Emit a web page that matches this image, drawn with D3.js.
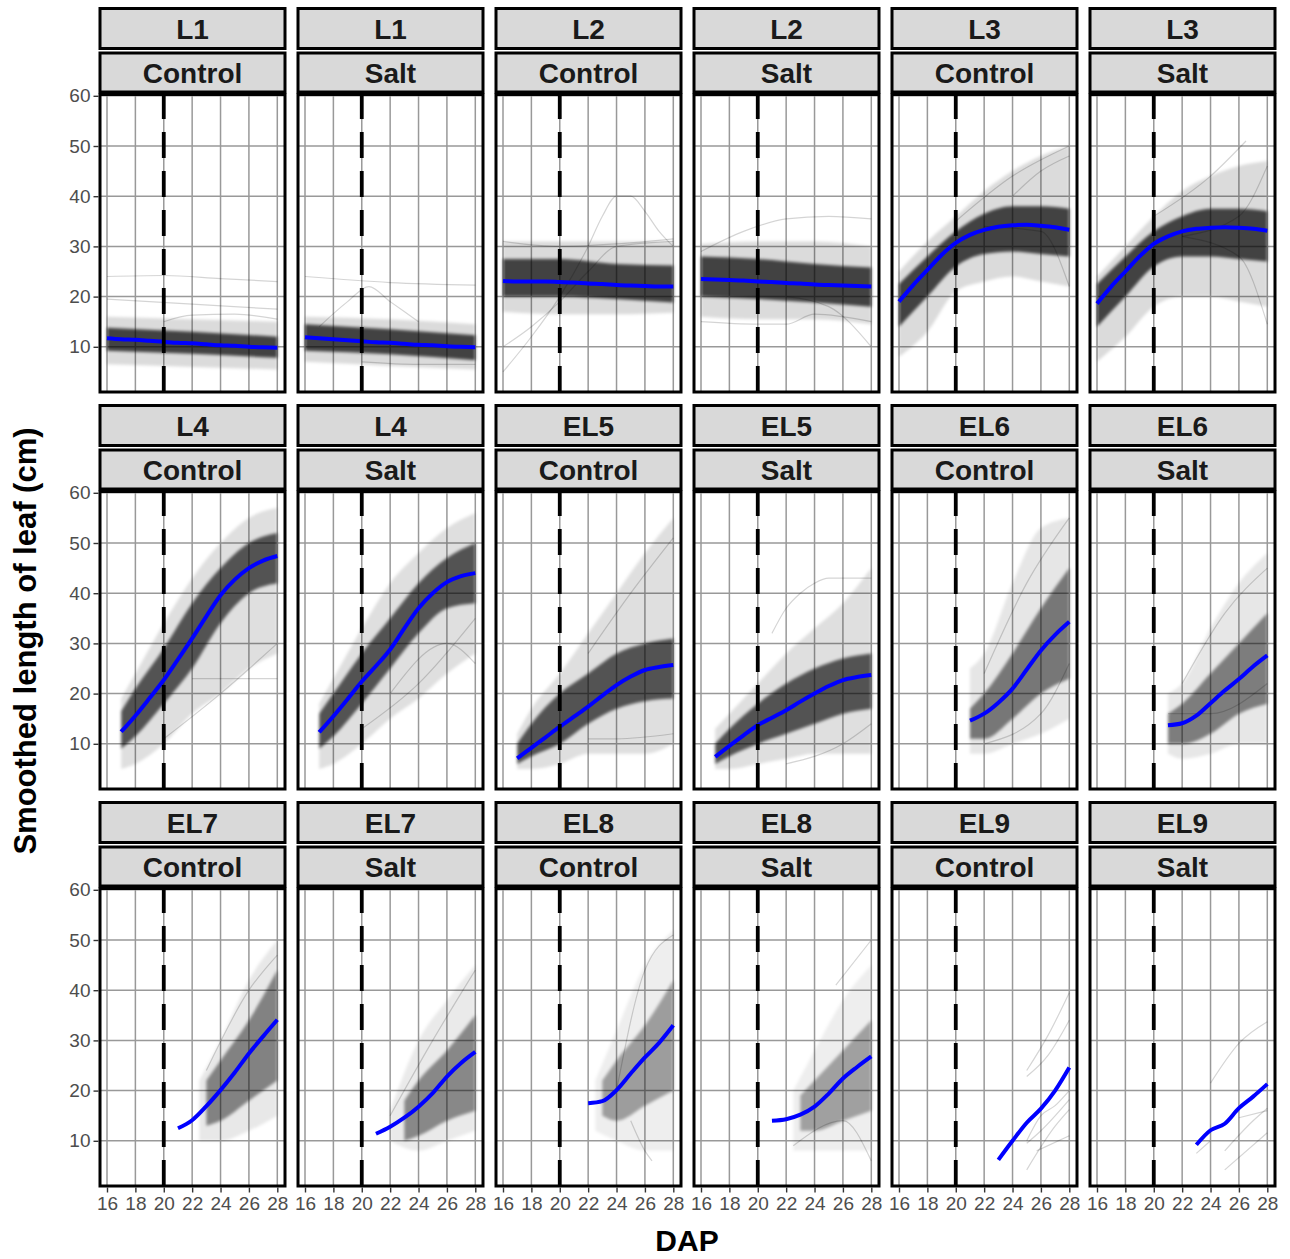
<!DOCTYPE html>
<html>
<head>
<meta charset="utf-8">
<script src="https://cdn.jsdelivr.net/npm/d3@7"></script>
<style>
  body { margin: 0; background: #fff; }
  svg { font-family: "Liberation Sans", Arial, Helvetica, sans-serif; }
</style>
</head>
<body>
<script>
// facets
var leaves = ["L1", "L2", "L3", "L4", "EL5", "EL6", "EL7", "EL8", "EL9"];
var treatments = ["Control", "Salt"];
var xTicks = [16, 18, 20, 22, 24, 26, 28];
var yTicks = [10, 20, 30, 40, 50, 60];
var treatDay = 20;

// panel order: L1 Control, L1 Salt, L2 Control, L2 Salt, ...
var meanStart = [16, 16, 16, 16, 16, 16, 17, 17, 17, 17, 21, 21, 21, 21, 22, 21, 23, 23];
var meanValues = [
  [11.7, 11.5, 11.4, 11.2, 11.0, 10.8, 10.7, 10.5, 10.3, 10.2, 10.0, 9.9, 9.8],
  [11.9, 11.7, 11.5, 11.3, 11.1, 10.9, 10.8, 10.6, 10.4, 10.3, 10.1, 10.0, 9.9],
  [23.1, 23.0, 23.0, 23.0, 22.9, 22.8, 22.6, 22.5, 22.3, 22.2, 22.1, 22.0, 22.0],
  [23.5, 23.4, 23.3, 23.2, 23.0, 22.9, 22.7, 22.6, 22.4, 22.3, 22.2, 22.1, 22.0],
  [19.0, 22.3, 25.3, 28.3, 30.7, 32.3, 33.3, 33.9, 34.2, 34.3, 34.1, 33.8, 33.3],
  [18.6, 22.0, 25.0, 28.0, 30.5, 32.0, 33.0, 33.5, 33.7, 33.8, 33.7, 33.5, 33.1],
  [12.4, 15.6, 19.1, 22.7, 26.8, 31.0, 35.4, 39.6, 42.7, 45.0, 46.5, 47.4],
  [12.3, 15.5, 18.9, 22.4, 25.5, 28.8, 33.0, 37.0, 40.0, 42.2, 43.4, 44.0],
  [7.1, 9.2, 11.3, 13.4, 15.4, 17.4, 19.6, 21.7, 23.4, 24.7, 25.3, 25.7],
  [7.4, 9.6, 11.7, 13.7, 15.2, 16.7, 18.4, 20.0, 21.5, 22.7, 23.3, 23.7],
  [14.6, 16.0, 18.2, 21.0, 24.8, 28.6, 31.7, 34.3],
  [13.7, 14.1, 15.6, 18.1, 20.6, 22.9, 25.4, 27.6],
  [12.5, 14.1, 16.9, 20.1, 23.6, 27.4, 30.8, 34.1],
  [11.4, 12.8, 14.6, 16.8, 19.5, 22.8, 25.5, 27.7],
  [17.5, 17.9, 20.1, 23.4, 26.6, 29.5, 33.0],
  [14.0, 14.3, 15.2, 16.8, 19.4, 22.4, 24.7, 26.8],
  [6.2, 10.0, 13.6, 16.4, 20.0, 24.6],
  [9.2, 12.1, 13.4, 16.5, 18.8, 21.3]
];

// approximate number of plant curves in each panel
var plantCount = [300, 300, 250, 250, 300, 300, 200, 200, 200, 200, 120, 110, 100, 90, 60, 55, 8, 6];

// bulk of the individual curves: [day, low, high]
var coreBand = [
  [[16, 9.2, 13.8], [22, 8.6, 13], [28, 7.8, 12]],
  [[16, 9.2, 14.5], [22, 8.5, 13.5], [28, 7.3, 12.3]],
  [[16, 20, 27.5], [20, 20, 27.5], [24, 19.5, 26.5], [28, 18.8, 26.2]],
  [[16, 20, 28], [20, 19.5, 27.5], [24, 18.8, 26.5], [28, 18, 25.8]],
  [[16, 14, 22.5], [18, 20, 28], [20, 26, 33], [22, 28.5, 36.5], [24, 29, 38], [26, 28.5, 38], [28, 28, 37.5]],
  [[16, 14, 22.5], [18, 20, 28], [20, 26, 33], [22, 28, 36], [24, 28, 37.5], [26, 27.5, 37.5], [28, 27, 37]],
  [[17, 9, 16.5], [18, 11.5, 21], [20, 18, 29], [22, 25, 38], [24, 34, 45], [26, 40, 50], [28, 42, 52]],
  [[17, 9, 16], [18, 11.5, 20], [20, 18, 28], [22, 25, 35], [24, 32, 42], [26, 37, 47], [28, 38, 50]],
  [[17, 6, 10], [18, 7.5, 14], [20, 10, 20], [22, 14, 24], [24, 17, 28], [26, 18.5, 30], [28, 19, 31]],
  [[17, 6, 10], [18, 7.5, 13], [20, 10, 18], [22, 12, 22], [24, 14, 25], [26, 16, 27], [28, 17, 28]],
  [[21, 11, 17], [22, 11, 20], [24, 15, 28], [26, 20, 37], [28, 23, 45]],
  [[21, 10, 16], [22, 10, 18], [24, 12, 24], [26, 16, 30], [28, 18, 36]],
  [[23, 13, 22], [24, 14, 26], [26, 18, 34], [28, 22, 44]],
  [[23, 10, 18], [24, 11, 22], [26, 14, 28], [28, 16, 35]],
  [[23, 15, 22], [24, 14, 26], [26, 17, 33], [28, 20, 42]],
  [[23, 12, 19], [24, 12, 22], [26, 14, 28], [28, 16, 34]],
  null,
  null
];

// full spread of the individual curves: [day, low, high]
var outerBand = [
  [[16, 6.5, 16], [22, 6, 15.5], [28, 5.5, 15]],
  [[16, 7, 16], [22, 6.2, 15.5], [28, 5.5, 14.5]],
  [[16, 17, 31], [20, 16.5, 31], [24, 16.5, 31], [28, 16.8, 31]],
  [[16, 16, 30.5], [20, 15.5, 31], [24, 15.5, 31], [28, 14.5, 30]],
  [[16, 8, 25], [18, 13, 31], [20, 21, 36], [22, 23, 41], [24, 24, 45], [26, 23, 48], [28, 22, 50]],
  [[16, 7, 24], [18, 12, 30], [20, 18, 36], [22, 20, 41], [24, 20, 44], [26, 19, 46], [28, 18, 47]],
  [[17, 5, 19], [18, 6, 24], [20, 10, 34], [22, 16, 43], [24, 20, 50], [26, 25, 55], [28, 28, 57]],
  [[17, 5, 18], [18, 6, 23], [20, 10, 33], [22, 15, 42], [24, 19, 48], [26, 24, 53], [28, 28, 56]],
  [[17, 5, 12], [18, 5, 17], [20, 6, 24], [22, 8, 32], [24, 8, 40], [26, 8, 48], [28, 10, 55]],
  [[17, 5, 13], [18, 5, 16], [20, 6, 22], [22, 7, 28], [24, 8, 33], [26, 8, 38], [28, 8, 45]],
  [[21, 8, 25], [22, 8, 28], [24, 10, 42], [26, 12, 53], [28, 15, 55]],
  [[21, 8, 20], [22, 7, 22], [24, 8, 33], [26, 10, 42], [28, 10, 48]],
  [[22.5, 10, 22], [24, 10, 30], [26, 12, 42], [28, 15, 50]],
  [[22, 10, 16], [24, 8, 30], [26, 10, 38], [28, 12, 45]],
  [[22.5, 12, 22], [24, 10, 32], [26, 8, 45], [28, 8, 52]],
  [[22.5, 8, 20], [24, 8, 28], [26, 8, 38], [28, 8, 45]],
  null,
  null
];

// single plants that stand out from the bundle: [day, length]
var strayCurves = [
  [[[16, 24], [20, 24.2], [24, 23.6], [28, 23]], [[16, 19.5], [22, 18.5], [28, 17.5]], [[20, 15], [22, 16.3], [25, 16.5], [28, 15.5]]],
  [[[16, 24], [22, 22.8], [28, 22.3]], [[17, 14], [19, 19], [20.5, 22], [22, 19], [24, 15]], [[20, 7], [24, 6.5], [28, 6.5]]],
  [[[16, 5], [18, 12], [20, 20], [22, 30], [23, 36], [24, 40], [25, 40], [26, 37], [27, 33], [28, 30]], [[16, 10], [18, 14], [20, 19], [22, 25], [24, 30], [28, 31]], [[16, 31], [20, 30], [24, 30.5], [28, 31.5]]],
  [[[16, 29], [19, 33], [22, 35.5], [25, 36], [28, 35.5]], [[16, 15], [20, 14.5], [22, 14.5], [24, 16.5], [28, 15]], [[22, 20], [25, 18], [28, 10]]],
  [[[20, 35], [24, 44], [28, 50]], [[24, 40], [26, 45], [28, 48]], [[22, 34], [26, 33], [28, 22]]],
  [[[20, 36], [24, 44], [26.5, 51]], [[22, 32], [26, 36], [28, 46]], [[22, 32], [26, 28], [28, 14.5]]],
  [[[22, 23], [25, 23], [28, 23]], [[20, 11], [24, 20], [28, 30]]],
  [[[20, 13], [24, 22], [28, 35]], [[22, 20], [26, 30], [28, 26]]],
  [[[22, 28], [25, 40], [28, 51]], [[22, 11], [24, 11], [28, 12]]],
  [[[21, 32], [22, 37], [23, 40], [24, 42], [25, 43], [28, 43]], [[22, 6], [26, 10], [28, 14]]],
  [[[22, 24], [25, 42], [28, 55]], [[22, 10], [26, 16], [28, 26]]],
  [[[22, 22], [25, 36], [28, 45]], [[21, 16], [24, 16], [28, 22]]],
  [[[23, 24], [26, 40], [28, 47]]],
  [[[22, 15], [25, 30], [28, 44]]],
  [[[24, 20], [26, 44], [28, 51]], [[25, 14], [26, 8], [26.5, 6]]],
  [[[25.5, 41], [28, 50]], [[22.5, 9], [26, 14], [28, 6]]],
  [[[25, 24], [26.5, 31], [28, 39.5]], [[25, 22.8], [26.5, 27], [28, 34]], [[25, 9.5], [26, 12], [28, 18.2]], [[25, 4.2], [27, 12.9], [28, 16.2]], [[25.7, 8], [28, 11]], [[25, 10], [26, 15], [27, 17], [28, 20]]],
  [[[24, 21.5], [26, 29.4], [28, 33.7]], [[25, 4.2], [28, 11.6]], [[26, 14.6], [28, 16]], [[23, 7.5], [24, 10]], [[25, 8], [27, 14], [28, 16.5]]]
];

var width = 1290, height = 1259;
var svg = d3.select("body").append("svg").attr("width", width).attr("height", height);

var panelW = 185, colStep = 198, rowStep = 397;
var nCols = 6;

function panelBox(i) {
  var col = i % nCols, row = Math.floor(i / nCols);
  return { x: 100 + col * colStep, top: 8 + row * rowStep, col: col, row: row };
}

var defs = svg.append("defs");
// soft edges so the bands read like a bundle of thin curves
defs.append("filter").attr("id", "soft").attr("x", "-10%").attr("y", "-10%").attr("width", "120%").attr("height", "120%")
  .append("feGaussianBlur").attr("stdDeviation", 1.6);

d3.range(18).forEach(function (i) {
  var b = panelBox(i);
  var leaf = leaves[Math.floor(i / 2)], treat = treatments[i % 2];
  var px = b.x, py = b.top + 86.5, ph = 297.5;

  var x = d3.scaleLinear().domain([16, 28]).range([px + 7, px + 177.3]);
  var y = d3.scaleLinear().domain([10, 60]).range([b.top + 338.8, b.top + 87.8]);

  defs.append("clipPath").attr("id", "clip" + i)
    .append("rect").attr("x", px).attr("y", py).attr("width", panelW).attr("height", ph);

  var g = svg.append("g");
  g.append("rect").attr("x", px).attr("y", py).attr("width", panelW).attr("height", ph).attr("fill", "#fff");

  var grid = g.append("g").attr("stroke", "#999").attr("stroke-width", 1.5);
  grid.selectAll(".gx").data(xTicks).enter().append("line")
    .attr("x1", function (d) { return x(d); }).attr("x2", function (d) { return x(d); })
    .attr("y1", py).attr("y2", py + ph);
  grid.selectAll(".gy").data(yTicks).enter().append("line")
    .attr("x1", px).attr("x2", px + panelW)
    .attr("y1", function (d) { return y(d); }).attr("y2", function (d) { return y(d); });

  var plot = g.append("g").attr("clip-path", "url(#clip" + i + ")");
  var bands = plot.append("g").attr("filter", "url(#soft)");
  var k = Math.min(1, Math.sqrt(plantCount[i] / 250));

  var area = d3.area().curve(d3.curveMonotoneX)
    .x(function (d) { return x(d[0]); })
    .y0(function (d) { return y(d[1]); })
    .y1(function (d) { return y(d[2]); });

  if (outerBand[i]) {
    bands.append("path").attr("d", area(outerBand[i])).attr("fill", "#000").attr("fill-opacity", 0.14 * k);
  }
  if (coreBand[i]) {
    bands.append("path").attr("d", area(coreBand[i])).attr("fill", "#000").attr("fill-opacity", 0.7 * k);
  }

  var strayLine = d3.line().curve(d3.curveMonotoneX)
    .x(function (d) { return x(d[0]); }).y(function (d) { return y(d[1]); });
  plot.selectAll(".stray").data(strayCurves[i]).enter().append("path")
    .attr("d", strayLine).attr("fill", "none")
    .attr("stroke", "#000").attr("stroke-opacity", 0.17).attr("stroke-width", 1.2);

  var meanLine = d3.line().curve(d3.curveMonotoneX)
    .x(function (d, j) { return x(meanStart[i] + j); }).y(function (d) { return y(d); });
  plot.append("path").attr("d", meanLine(meanValues[i])).attr("fill", "none")
    .attr("stroke", "#0000ff").attr("stroke-width", 4);

  plot.append("line")
    .attr("x1", x(treatDay)).attr("x2", x(treatDay))
    .attr("y1", py + ph).attr("y2", py)
    .attr("stroke", "#000").attr("stroke-width", 3.8).attr("stroke-dasharray", "26 13");

  g.append("rect").attr("x", px).attr("y", py).attr("width", panelW).attr("height", ph)
    .attr("fill", "none").attr("stroke", "#000").attr("stroke-width", 3);

  // strips
  var strips = [{ label: leaf, y: b.top + 0.5, h: 40 }, { label: treat, y: b.top + 45, h: 39 }];
  strips.forEach(function (s) {
    g.append("rect").attr("x", px).attr("y", s.y).attr("width", panelW).attr("height", s.h)
      .attr("fill", "#d9d9d9").attr("stroke", "#000").attr("stroke-width", 3);
    g.append("text").attr("x", px + panelW / 2).attr("y", s.y + s.h / 2 + 10)
      .attr("text-anchor", "middle").attr("font-size", 28).attr("font-weight", "bold")
      .attr("fill", "#1a1a1a").text(s.label);
  });

  if (b.col === 0) {
    var ya = d3.axisLeft(y).tickValues(yTicks).tickSize(5).tickPadding(3);
    var yg = svg.append("g").attr("transform", "translate(" + (px - 1.5) + ",0)").call(ya);
    yg.select(".domain").remove();
    yg.selectAll("line").attr("stroke", "#333").attr("stroke-width", 1.4);
    yg.selectAll("text").attr("font-size", 19).attr("fill", "#4d4d4d")
      .attr("font-family", "Liberation Sans, Arial, sans-serif");
  }
  if (b.row === 2) {
    var xa = d3.axisBottom(x).tickValues(xTicks).tickSize(5).tickPadding(4);
    var xg = svg.append("g").attr("transform", "translate(0," + (py + ph + 1.5) + ")").call(xa);
    xg.select(".domain").remove();
    xg.selectAll("line").attr("stroke", "#333").attr("stroke-width", 1.4);
    xg.selectAll("text").attr("font-size", 19).attr("fill", "#4d4d4d")
      .attr("font-family", "Liberation Sans, Arial, sans-serif");
  }
});

svg.append("text").attr("x", 687).attr("y", 1251).attr("text-anchor", "middle")
  .attr("font-size", 30).attr("font-weight", "bold").attr("fill", "#000").text("DAP");

svg.append("text").attr("transform", "translate(36,641) rotate(-90)").attr("text-anchor", "middle")
  .attr("font-size", 31).attr("font-weight", "bold").attr("fill", "#000").text("Smoothed length of leaf (cm)");
</script>
</body>
</html>
